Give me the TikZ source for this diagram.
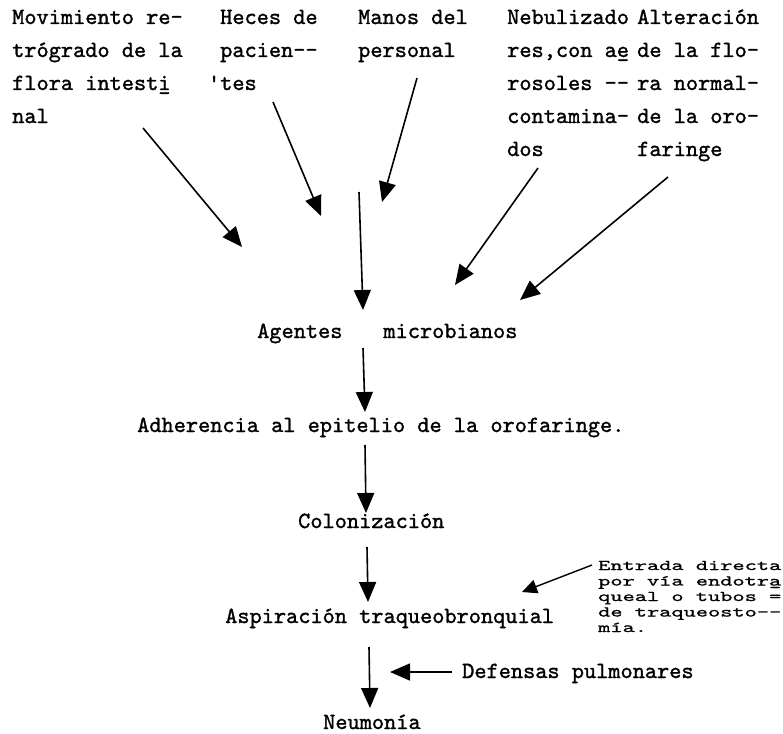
\documentclass[tikz,border=0pt]{standalone}
\usepackage{fontspec}
\usetikzlibrary{arrows.meta}
\newfontfamily\twfont[FakeBold=1.3]{lmmono10-regular.otf}
\newfontfamily\twnarrow[FakeStretch=1.55,FakeBold=1.1]{lmmono10-regular.otf}
\begin{document}
\begin{tikzpicture}[x=1pt,y=-1pt,
  tw/.style={font=\twfont\fontsize{23.2}{33}\selectfont, inner sep=0pt, anchor=base west},
  tws/.style={font=\twnarrow\fontsize{15}{15.5}\selectfont, inner sep=0pt, anchor=base west},
  arr/.style={line width=1.6pt, -{Triangle[length=20pt,width=17pt]}},
  arrs/.style={line width=1.4pt, -{Triangle[length=15pt,width=14pt]}}
  ]
\useasboundingbox (0,0) rectangle (783,733);
% column 1
\node[tw] (m1) at (12,24) {Movimiento re-};
\node[tw] (m2) at (12,57) {trógrado de la};
\node[tw] (m3) at (12,90) {flora  intest\rlap{i}\_};
\node[tw] (m4) at (12,123) {nal};
% column 2
\node[tw] (h1) at (220,24) {Heces de};
\node[tw] (h2) at (220,57) {pacien--};
\node[tw] (h3) at (220,90) {\llap{'}tes};
% column 3
\node[tw] (n1) at (358,24) {Manos del};
\node[tw] (n2) at (358,57) {personal};
% column 4
\node[tw] (b1) at (507,24) {Nebulizado};
\node[tw] (b2) at (507,57) {res,con a\rlap{e}\_};
\node[tw] (b3) at (507,90) {rosoles --};
\node[tw] (b4) at (507,123) {contamina-};
\node[tw] (b5) at (507,156) {dos};
% column 5
\node[tw] (l1) at (637,24) {Alteración};
\node[tw] (l2) at (637,57) {de la flo-};
\node[tw] (l3) at (637,90) {ra normal-};
\node[tw] (l4) at (637,123) {de la oro-};
\node[tw] (l5) at (637,156) {faringe};
% chain
\node[tw] (agentes) at (257,338) {Agentes\hspace{41pt}microbianos};
\node[tw] (adh) at (137,432) {Adherencia al epitelio de la orofaringe.};
\node[tw] (col) at (298,528) {Colonización};
\node[tw] (asp) at (225,623) {Aspiración traqueobronquial};
\node[tw] (def) at (462,678) {Defensas pulmonares};
\node[tw] (neu) at (323,729) {Neumonía};
% entrada
\node[tws] (e1) at (598,570) {Entrada directa};
\node[tws] (e2) at (598,585.5) {por vía endotr\rlap{a}\_};
\node[tws] (e3) at (598,601) {queal o tubos =};
\node[tws] (e4) at (598,616.5) {de traqueosto--};
\node[tws] (e5) at (598,632) {mía.};
% arrow ends
\coordinate (a1s) at (143,128); \coordinate (a1e) at (242,247);
\coordinate (a2s) at (273,102); \coordinate (a2e) at (321,216);
\coordinate (a3s) at (417,78);  \coordinate (a3e) at (382,202);
\coordinate (a4s) at (359,192); \coordinate (a4e) at (363,310);
\coordinate (a5s) at (538,168); \coordinate (a5e) at (455,285);
\coordinate (a6s) at (668,177); \coordinate (a6e) at (520,300);
\coordinate (a7s) at (363,348); \coordinate (a7e) at (365,412);
\coordinate (a8s) at (365,445); \coordinate (a8e) at (366,513);
\coordinate (a9s) at (367,547); \coordinate (a9e) at (368,602);
\coordinate (a10s) at (369,647); \coordinate (a10e) at (370,708);
\coordinate (a11s) at (452,672); \coordinate (a11e) at (390,672);
\coordinate (a12s) at (592,565); \coordinate (a12e) at (522,592);
\draw[arr] (a1s) -- (a1e);
\draw[arr] (a2s) -- (a2e);
\draw[arr] (a3s) -- (a3e);
\draw[arr] (a4s) -- (a4e);
\draw[arr] (a5s) -- (a5e);
\draw[arr] (a6s) -- (a6e);
\draw[arr] (a7s) -- (a7e);
\draw[arr] (a8s) -- (a8e);
\draw[arr] (a9s) -- (a9e);
\draw[arr] (a10s) -- (a10e);
\draw[arr] (a11s) -- (a11e);
\draw[arrs] (a12s) -- (a12e);
\end{tikzpicture}
\end{document}
